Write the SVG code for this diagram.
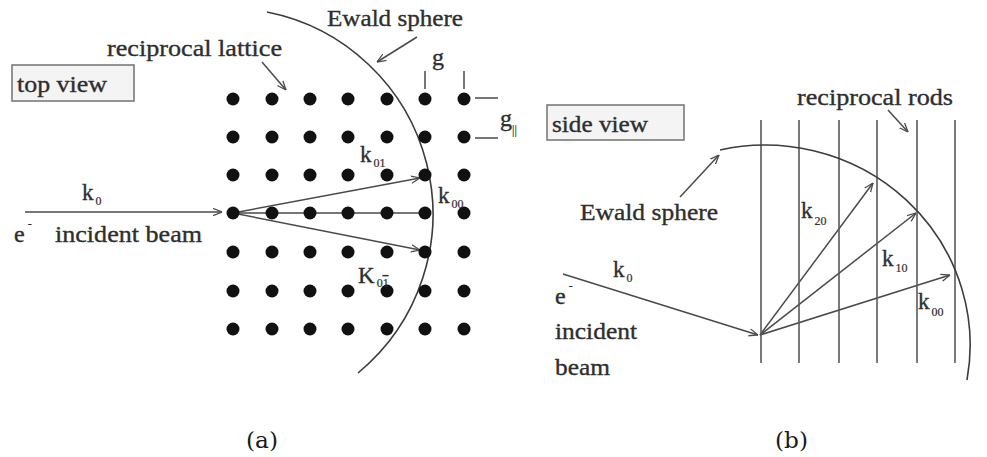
<svg xmlns="http://www.w3.org/2000/svg" width="987" height="457" viewBox="0 0 987 457">
<style>
  .t { font-family: 'Liberation Serif', 'Tinos', 'DejaVu Serif', 'Noto Serif', serif; fill: #2e2e2e; stroke: #2e2e2e; stroke-width: 0.35px; font-size: 24px; }
  .k { font-size: 23px; }
  .s { font-size: 12px; stroke-width: 0.2px; }
  .cap { font-family: 'DejaVu Serif', 'Liberation Serif', serif; fill: #1a1a1a; font-size: 22px; }
  .ln { stroke: #4a4a4a; stroke-width: 1.5; fill: none; }
  .arc { stroke: #3c3c3c; stroke-width: 1.6; fill: none; }
  .rod { stroke: #5a5a5a; stroke-width: 1.6; }
  .dot { fill: #111; }
  .box { fill: #f4f4f4; stroke: #7a7a7a; stroke-width: 1.6; }
</style>
<defs>
  <marker id="ah" viewBox="0 0 10 10" refX="10" refY="5" markerWidth="9" markerHeight="9" markerUnits="userSpaceOnUse" orient="auto">
    <path d="M0,1 L10,5 L0,9" fill="none" stroke="#4a4a4a" stroke-width="1.4"/>
  </marker>
</defs>
<rect width="987" height="457" fill="#ffffff"/>

<!-- connectors -->
<g id="connectors">
  <line class="ln" x1="25" y1="212" x2="222" y2="212" marker-end="url(#ah)"/>
  <line class="ln" x1="233" y1="213" x2="420" y2="178" marker-end="url(#ah)"/>
  <line class="ln" x1="233" y1="213" x2="420" y2="213"/>
  <line class="ln" x1="233" y1="213" x2="420" y2="250" marker-end="url(#ah)"/>
  <line class="ln" x1="262" y1="62" x2="286" y2="90" marker-end="url(#ah)"/>
  <line class="ln" x1="417" y1="37" x2="377" y2="62" marker-end="url(#ah)"/>
  <line class="ln" x1="425" y1="71" x2="425" y2="89"/>
  <line class="ln" x1="464" y1="71" x2="464" y2="89"/>
  <line class="ln" x1="475" y1="98" x2="498" y2="98"/>
  <line class="ln" x1="475" y1="138" x2="498" y2="138"/>
  <line class="ln" x1="563" y1="274" x2="758" y2="335" marker-end="url(#ah)"/>
  <line class="ln" x1="760" y1="335" x2="873" y2="183" marker-end="url(#ah)"/>
  <line class="ln" x1="760" y1="335" x2="916" y2="213" marker-end="url(#ah)"/>
  <line class="ln" x1="760" y1="335" x2="950" y2="275" marker-end="url(#ah)"/>
  <line class="ln" x1="680" y1="197" x2="719" y2="155" marker-end="url(#ah)"/>
  <line class="ln" x1="888" y1="110" x2="908" y2="132" marker-end="url(#ah)"/>
</g>

<!-- panel (a) -->
<g id="top-view-box">
  <rect class="box" x="12" y="65" width="122" height="36"/>
  <text class="t" x="17" y="92" textLength="90" lengthAdjust="spacingAndGlyphs">top view</text>
</g>
<g id="label-reciprocal-lattice">
  <text class="t" x="107" y="56" textLength="175" lengthAdjust="spacingAndGlyphs">reciprocal lattice</text>
</g>
<g id="label-ewald-a">
  <text class="t" x="327" y="26" textLength="136" lengthAdjust="spacingAndGlyphs">Ewald sphere</text>
</g>
<g id="ewald-arc-a">
  <path class="arc" d="M267,12 A206,206 0 0 1 358,373"/>
</g>
<g id="lattice">
  <circle class="dot" cx="233" cy="99" r="6.5"/><circle class="dot" cx="272" cy="99" r="6.5"/><circle class="dot" cx="310" cy="99" r="6.5"/><circle class="dot" cx="348" cy="99" r="6.5"/><circle class="dot" cx="387" cy="99" r="6.5"/><circle class="dot" cx="425" cy="99" r="6.5"/><circle class="dot" cx="464" cy="99" r="6.5"/>
  <circle class="dot" cx="233" cy="137" r="6.5"/><circle class="dot" cx="272" cy="137" r="6.5"/><circle class="dot" cx="310" cy="137" r="6.5"/><circle class="dot" cx="348" cy="137" r="6.5"/><circle class="dot" cx="387" cy="137" r="6.5"/><circle class="dot" cx="425" cy="137" r="6.5"/><circle class="dot" cx="464" cy="137" r="6.5"/>
  <circle class="dot" cx="233" cy="175" r="6.5"/><circle class="dot" cx="272" cy="175" r="6.5"/><circle class="dot" cx="310" cy="175" r="6.5"/><circle class="dot" cx="348" cy="175" r="6.5"/><circle class="dot" cx="387" cy="175" r="6.5"/><circle class="dot" cx="425" cy="175" r="6.5"/><circle class="dot" cx="464" cy="175" r="6.5"/>
  <circle class="dot" cx="233" cy="213" r="6.5"/><circle class="dot" cx="272" cy="213" r="6.5"/><circle class="dot" cx="310" cy="213" r="6.5"/><circle class="dot" cx="348" cy="213" r="6.5"/><circle class="dot" cx="387" cy="213" r="6.5"/><circle class="dot" cx="425" cy="213" r="6.5"/><circle class="dot" cx="464" cy="213" r="6.5"/>
  <circle class="dot" cx="233" cy="252" r="6.5"/><circle class="dot" cx="272" cy="252" r="6.5"/><circle class="dot" cx="310" cy="252" r="6.5"/><circle class="dot" cx="348" cy="252" r="6.5"/><circle class="dot" cx="387" cy="252" r="6.5"/><circle class="dot" cx="425" cy="252" r="6.5"/><circle class="dot" cx="464" cy="252" r="6.5"/>
  <circle class="dot" cx="233" cy="291" r="6.5"/><circle class="dot" cx="272" cy="291" r="6.5"/><circle class="dot" cx="310" cy="291" r="6.5"/><circle class="dot" cx="348" cy="291" r="6.5"/><circle class="dot" cx="387" cy="291" r="6.5"/><circle class="dot" cx="425" cy="291" r="6.5"/><circle class="dot" cx="464" cy="291" r="6.5"/>
  <circle class="dot" cx="233" cy="329" r="6.5"/><circle class="dot" cx="272" cy="329" r="6.5"/><circle class="dot" cx="310" cy="329" r="6.5"/><circle class="dot" cx="348" cy="329" r="6.5"/><circle class="dot" cx="387" cy="329" r="6.5"/><circle class="dot" cx="425" cy="329" r="6.5"/><circle class="dot" cx="464" cy="329" r="6.5"/>
</g>
<g id="label-g">
  <text class="t" x="432" y="65">g</text>
</g>
<g id="label-g-par">
  <text class="t" x="500" y="126">g<tspan class="s" y="134">||</tspan></text>
</g>
<g id="label-k01">
  <text class="t k" x="360" y="162">k<tspan class="s" dx="2" y="167">01</tspan></text>
</g>
<g id="label-k00-a">
  <text class="t k" x="438" y="203">k<tspan class="s" dx="2" y="208">00</tspan></text>
</g>
<g id="label-K01bar">
  <text class="t k" x="358" y="283">K<tspan class="s" dx="2" y="287">0<tspan style="text-decoration:overline">1</tspan></tspan></text>
</g>
<g id="label-k0-a">
  <text class="t k" x="82" y="200">k<tspan class="s" dx="2" y="205">0</tspan></text>
</g>
<g id="label-e-a">
  <text class="t" x="14" y="242">e<tspan class="s" dx="3" y="228">-</tspan></text>
</g>
<g id="label-incident-a">
  <text class="t" x="55" y="242" textLength="147" lengthAdjust="spacingAndGlyphs">incident beam</text>
</g>

<!-- panel (b) -->
<g id="side-view-box">
  <rect class="box" x="547" y="105" width="137" height="35"/>
  <text class="t" x="552" y="132" textLength="96" lengthAdjust="spacingAndGlyphs">side view</text>
</g>
<g id="label-reciprocal-rods">
  <text class="t" x="797" y="105" textLength="156" lengthAdjust="spacingAndGlyphs">reciprocal rods</text>
</g>
<g id="rods">
  <line class="rod" x1="761" y1="120" x2="761" y2="363"/>
  <line class="rod" x1="799" y1="120" x2="799" y2="363"/>
  <line class="rod" x1="839" y1="120" x2="839" y2="363"/>
  <line class="rod" x1="877" y1="120" x2="877" y2="363"/>
  <line class="rod" x1="917" y1="120" x2="917" y2="363"/>
  <line class="rod" x1="955" y1="120" x2="955" y2="363"/>
</g>
<g id="ewald-arc-b">
  <path class="arc" d="M720,150 A205,200 0 0 1 967,380"/>
</g>
<g id="label-ewald-b">
  <text class="t" x="580" y="220" textLength="138" lengthAdjust="spacingAndGlyphs">Ewald sphere</text>
</g>
<g id="label-k20">
  <text class="t k" x="801" y="218">k<tspan class="s" dx="2" y="225">20</tspan></text>
</g>
<g id="label-k10">
  <text class="t k" x="882" y="266">k<tspan class="s" dx="2" y="272">10</tspan></text>
</g>
<g id="label-k00-b">
  <text class="t k" x="918" y="309">k<tspan class="s" dx="2" y="316">00</tspan></text>
</g>
<g id="label-k0-b">
  <text class="t k" x="613" y="277">k<tspan class="s" dx="2" y="282">0</tspan></text>
</g>
<g id="label-e-b">
  <text class="t" x="555" y="304">e<tspan class="s" dx="3" y="290">-</tspan></text>
</g>
<g id="label-incident-b">
  <text class="t" x="555" y="339" textLength="82" lengthAdjust="spacingAndGlyphs">incident</text>
  <text class="t" x="555" y="375" textLength="55" lengthAdjust="spacingAndGlyphs">beam</text>
</g>

<g id="caption-a">
  <text class="cap" x="246" y="448" textLength="32" lengthAdjust="spacingAndGlyphs">(a)</text>
</g>
<g id="caption-b">
  <text class="cap" x="775" y="448" textLength="33" lengthAdjust="spacingAndGlyphs">(b)</text>
</g>
</svg>
